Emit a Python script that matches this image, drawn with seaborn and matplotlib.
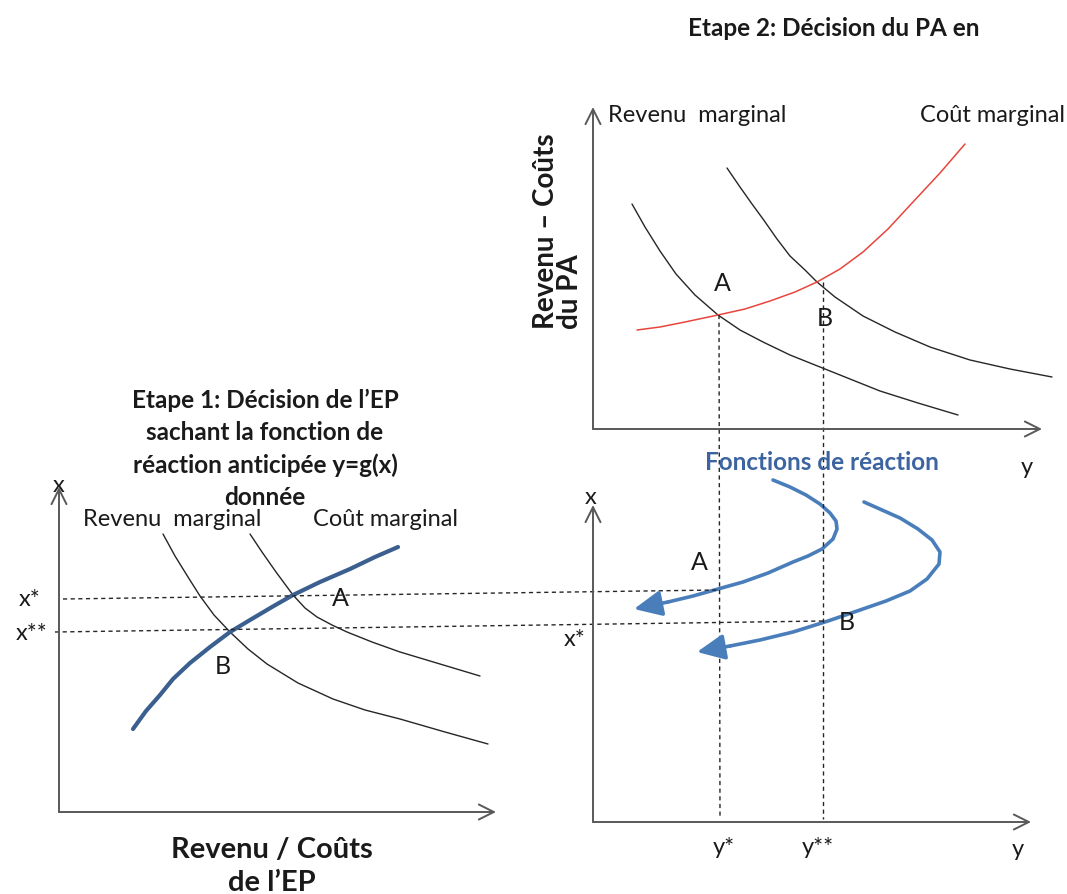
import matplotlib
matplotlib.use("Agg")
import matplotlib.pyplot as plt
import seaborn as sns
import pandas as pd

sns.set_theme(style="white")
plt.rcParams['font.family'] = ['Lato', 'DejaVu Sans']

# ---------------- data (diagram coordinates) ----------------
# Top-right panel (Etape 2)
rm1_top_x = [632, 645, 660, 676, 695, 718, 740, 763, 790, 820, 850, 880, 918, 958]
rm1_top_y = [205, 228, 252, 275, 296, 316, 331, 343, 356, 368, 380, 392, 404, 416]
rm2_top_x = [727, 740, 752, 763, 777, 790, 805, 817, 835, 863, 895, 930, 970, 1010, 1052]
rm2_top_y = [169, 188, 205, 220, 240, 257, 271, 283, 298, 317, 333, 348, 361, 370, 378]
cm_top_x = [637, 660, 685, 718, 745, 770, 795, 817, 840, 863, 888, 913, 940, 965]
cm_top_y = [331, 328, 323, 316, 310, 302, 293, 283, 270, 253, 230, 203, 174, 145]

# Bottom-left panel (Etape 1)
rm_left_x = [163, 175, 188, 200, 214, 230, 248, 267, 298, 333, 365, 400, 445, 488]
rm_left_y = [535, 557, 578, 597, 616, 633, 650, 665, 684, 700, 711, 720, 733, 745]
cm_left_x = [250, 262, 276, 293, 305, 317, 332, 347, 372, 400, 440, 480]
cm_left_y = [535, 553, 573, 596, 609, 618, 626, 633, 643, 653, 665, 677]
g_left_x = [133, 146, 160, 173, 190, 210, 230, 250, 272, 293, 320, 350, 375, 398]
g_left_y = [730, 712, 696, 680, 664, 648, 633, 621, 608, 596, 583, 570, 558, 548]

# Bottom-right panel: reaction-function arrows
arrA_x = [773, 790, 806, 820, 830, 836, 837, 833, 822, 808, 793, 768, 743, 718, 693, 668]
arrA_y = [481, 488, 496, 505, 514, 522, 530, 540, 550, 557, 563, 574, 583, 590, 597, 603]
arrA_tip = (634, 610)
arrB_x = [864, 882, 900, 918, 932, 940, 939, 927, 910, 886, 860, 828, 793, 760, 730]
arrB_y = [503, 511, 519, 530, 541, 553, 565, 580, 592, 602, 611, 622, 633, 641, 647]
arrB_tip = (697, 653)

# Dashed guide lines
dash_h1 = ([63, 717], [600, 591])
dash_h2 = ([55, 823], [633, 622])
dash_v1 = ([719, 720], [316, 820])
dash_v2 = ([823, 823], [283, 820])

# ---------------- figure ----------------
W, H = 1067, 895
fig = plt.figure(figsize=(W / 100, H / 100), dpi=100)
ax = fig.add_axes([0, 0, 1, 1])
ax.set_xlim(0, W)
ax.set_ylim(H, 0)
ax.axis("off")

AX_C = "#595959"

def axis_arrow(x0, y0, x1, y1):
    ax.annotate("", xy=(x1, y1), xytext=(x0, y0),
                arrowprops=dict(arrowstyle="->,head_length=0.9,head_width=0.45",
                                color=AX_C, lw=1.4, shrinkA=0, shrinkB=0))

# axes
axis_arrow(593, 430, 593, 108)   # top-right y
axis_arrow(593, 430, 1042, 430)  # top-right x
axis_arrow(59, 813, 59, 488)     # left y
axis_arrow(59, 813, 496, 813)    # left x
axis_arrow(593, 823, 593, 506)   # bottom-right y
axis_arrow(593, 823, 1031, 823)  # bottom-right x

def curve(xs, ys, color, lw):
    df = pd.DataFrame({"x": xs, "y": ys})
    sns.lineplot(data=df, x="x", y="y", sort=False, color=color, lw=lw, ax=ax,
                 estimator=None)

curve(rm1_top_x, rm1_top_y, "#262626", 1.0)
curve(rm2_top_x, rm2_top_y, "#262626", 1.0)
curve(cm_top_x, cm_top_y, "#e8453c", 1.1)
curve(rm_left_x, rm_left_y, "#262626", 1.0)
curve(cm_left_x, cm_left_y, "#262626", 1.0)
curve(g_left_x, g_left_y, "#3b5f8e", 3.0)

BLUE = "#4a7ebb"
for xs, ys, tip in [(arrA_x, arrA_y, arrA_tip), (arrB_x, arrB_y, arrB_tip)]:
    curve(xs, ys, BLUE, 2.6)
    ax.annotate("", xy=tip, xytext=(xs[-1], ys[-1]),
                arrowprops=dict(arrowstyle="-|>,head_length=1.4,head_width=0.65",
                                color=BLUE, lw=2.6, shrinkA=0, shrinkB=0))

for (xs, ys) in [dash_h1, dash_h2, dash_v1, dash_v2]:
    ax.plot(xs, ys, color="#262626", lw=1.0, ls=(0, (3, 2.5)))

# ---------------- texts ----------------
TXT = "#1a1a1a"
ax.text(834, 28, "Etape 2: Décision du PA en", ha="center", va="center",
        fontsize=17.5, fontweight="bold", color=TXT)
ax.text(608, 115, "Revenu  marginal", ha="left", va="center", fontsize=17, color=TXT)
ax.text(1065, 115, "Coût marginal", ha="right", va="center", fontsize=17, color=TXT)
ax.text(558, 329, "Revenu – Coûts\ndu PA", rotation=90, ha="center", va="bottom",
        multialignment="left", linespacing=0.9,
        fontsize=20, fontweight="bold", color=TXT)
ax.text(722, 283, "A", ha="center", va="center", fontsize=18, color=TXT)
ax.text(825, 318, "B", ha="center", va="center", fontsize=18, color=TXT)
ax.text(1027, 467, "y", ha="center", va="center", fontsize=17, color=TXT)
ax.text(822, 462, "Fonctions de réaction", ha="center", va="center",
        fontsize=17.5, fontweight="bold", color="#3c64a0")

ax.text(591, 497, "x", ha="center", va="center", fontsize=17, color=TXT)
ax.text(575, 640, "x*", ha="center", va="center", fontsize=17, color=TXT)
ax.text(699, 563, "A", ha="center", va="center", fontsize=18, color=TXT)
ax.text(847, 623, "B", ha="center", va="center", fontsize=18, color=TXT)
ax.text(724, 848, "y*", ha="center", va="center", fontsize=17, color=TXT)
ax.text(818, 848, "y**", ha="center", va="center", fontsize=17, color=TXT)
ax.text(1018, 850, "y", ha="center", va="center", fontsize=17, color=TXT)

for i, line in enumerate(["Etape 1: Décision de l’EP", "sachant la fonction de",
                          "réaction anticipée y=g(x)", "donnée"]):
    ax.text(265, 400 + 32.5 * i, line, ha="center", va="center",
            fontsize=17.5, fontweight="bold", color=TXT)
ax.text(59, 486, "x", ha="center", va="center", fontsize=17, color=TXT)
ax.text(83, 520, "Revenu  marginal", ha="left", va="center", fontsize=17, color=TXT)
ax.text(313, 520, "Coût marginal", ha="left", va="center", fontsize=17, color=TXT)
ax.text(30, 600, "x*", ha="center", va="center", fontsize=17, color=TXT)
ax.text(32, 633, "x**", ha="center", va="center", fontsize=17, color=TXT)
ax.text(340, 598, "A", ha="center", va="center", fontsize=18, color=TXT)
ax.text(223, 667, "B", ha="center", va="center", fontsize=18, color=TXT)
ax.text(272, 850, "Revenu / Coûts", ha="center", va="center",
        fontsize=21, fontweight="bold", color=TXT)
ax.text(272, 883, "de l’EP", ha="center", va="center",
        fontsize=21, fontweight="bold", color=TXT)

fig.savefig("out.png", dpi=100)
